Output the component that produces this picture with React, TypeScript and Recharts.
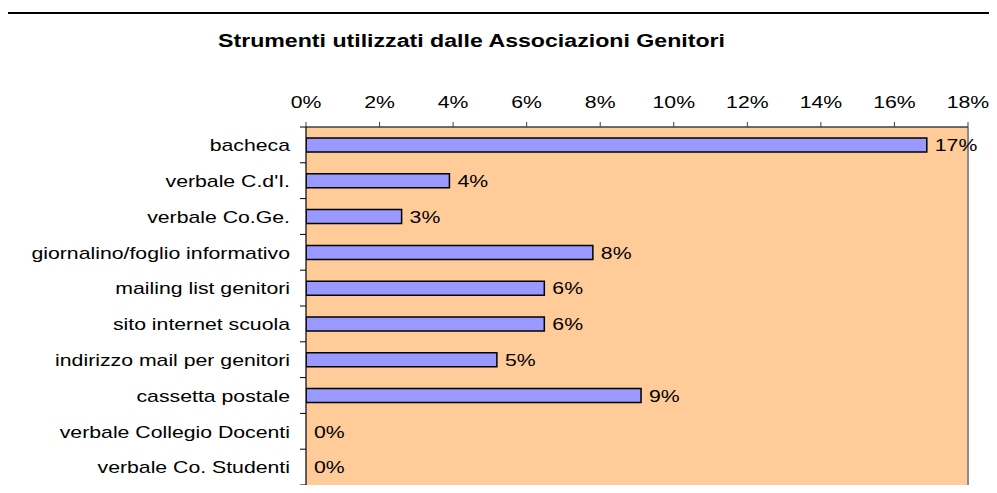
import React from "react";
import {
  BarChart,
  Bar,
  XAxis,
  YAxis,
  CartesianGrid,
  LabelList,
  ReferenceLine,
  Cell,
} from "recharts";

const TITLE = "Strumenti utilizzati dalle Associazioni Genitori";
const categories = [
  "bacheca",
  "verbale C.d'I.",
  "verbale Co.Ge.",
  "giornalino/foglio informativo",
  "mailing list genitori",
  "sito internet scuola",
  "indirizzo mail per genitori",
  "cassetta postale",
  "verbale Collegio Docenti",
  "verbale Co. Studenti",
];
const values = [0.1688, 0.039, 0.026, 0.078, 0.0648, 0.0648, 0.0519, 0.0911, 0, 0];
const xTicks = [0, 0.02, 0.04, 0.06, 0.08, 0.1, 0.12, 0.14, 0.16, 0.18];

const data = categories.map((name, i) => ({ name, value: values[i] }));

const FONT = "'Liberation Sans', Arial, sans-serif";
const FS = 17;
const SX = 1.25;
const pct = (v: number) => `${Math.round(v * 100)}%`;

const XTick = (props: any) => {
  const { x, y, payload } = props;
  return (
    <g transform={`translate(${x},${y}) scale(${SX},1)`}>
      <text textAnchor="middle" fontSize={FS} fontFamily={FONT} fill="#000">
        {pct(payload.value)}
      </text>
    </g>
  );
};

const Y_TICK_SIZE = 6;
const Y_TICK_MARGIN = 10;

const YTick = (props: any) => {
  const { x, y, payload, height, visibleTicksCount, index } = props;
  const axisX = x + Y_TICK_SIZE + Y_TICK_MARGIN;
  const half = height / visibleTicksCount / 2;
  return (
    <g>
      {index === 0 && (
        <line x1={axisX - 6} x2={axisX} y1={y - half} y2={y - half} stroke="#000" />
      )}
      <line x1={axisX - 6} x2={axisX} y1={y + half} y2={y + half} stroke="#000" />
      <g transform={`translate(${x},${y}) scale(${SX},1)`}>
        <text textAnchor="end" dy="0.37em" fontSize={FS} fontFamily={FONT} fill="#000">
          {payload.value}
        </text>
      </g>
    </g>
  );
};

const BarLabel = (props: any) => {
  const { x, y, width, height, value } = props;
  return (
    <g transform={`translate(${x + width + 8},${y + height / 2}) scale(${SX},1)`}>
      <text dy="0.36em" fontSize={FS} fontFamily={FONT} fill="#000">
        {pct(value)}
      </text>
    </g>
  );
};

export default function App() {
  return (
    <div
      style={{
        position: "relative",
        width: 997,
        height: 493,
        margin: -8,
        overflow: "hidden",
        background: "#fff",
      }}
    >
      <div
        style={{
          position: "absolute",
          left: 6,
          top: 12,
          right: -10,
          bottom: -10,
          borderTop: "2px solid #000",
          borderLeft: "2px solid #000",
        }}
      />
      <svg
        width={997}
        height={80}
        style={{ position: "absolute", left: 0, top: 0 }}
      >
        <text
          x={218}
          y={47}
          textLength={507}
          lengthAdjust="spacingAndGlyphs"
          fontSize={17.5}
          fontWeight="bold"
          fontFamily={FONT}
          fill="#000"
        >
          {TITLE}
        </text>
      </svg>
      <div style={{ position: "absolute", left: 0, top: 0 }}>
        <BarChart
          width={997}
          height={493}
          layout="vertical"
          data={data}
          margin={{ top: 87, right: 29, bottom: 8, left: 0 }}
          barCategoryGap={0}
        >
          <CartesianGrid horizontal={false} vertical={false} fill="#FFCC99" stroke="none" />
          <XAxis
            type="number"
            orientation="top"
            domain={[0, 0.18]}
            ticks={xTicks}
            height={40}
            tickSize={5}
            tickMargin={14}
            interval={0}
            axisLine={{ stroke: "#404040", strokeWidth: 1.5 }}
            tickLine={{ stroke: "#404040" }}
            tick={<XTick />}
            allowDataOverflow
          />
          <XAxis
            xAxisId="bottom"
            type="number"
            orientation="bottom"
            domain={[0, 0.18]}
            height={0}
            tick={false}
            tickLine={false}
            axisLine={{ stroke: "#8c8c8c", strokeWidth: 2 }}
          />
          <YAxis
            type="category"
            dataKey="name"
            width={306}
            tickSize={Y_TICK_SIZE}
            tickMargin={Y_TICK_MARGIN}
            tickLine={false}
            interval={0}
            axisLine={{ stroke: "#000", strokeWidth: 1.2 }}
            tick={<YTick />}
          />
          <ReferenceLine x={0.18} stroke="#8c8c8c" strokeWidth={2} />
          <Bar
            dataKey="value"
            fill="#9999FF"
            stroke="#000"
            strokeWidth={1.5}
            barSize={14}
            minPointSize={(v: number) => (v === 0 ? 0.01 : 0)}
            isAnimationActive={false}
          >
            {data.map((d, i) => (
              <Cell key={i} stroke={d.value === 0 ? "none" : "#000"} />
            ))}
            <LabelList dataKey="value" content={<BarLabel />} />
          </Bar>
        </BarChart>
      </div>
    </div>
  );
}
